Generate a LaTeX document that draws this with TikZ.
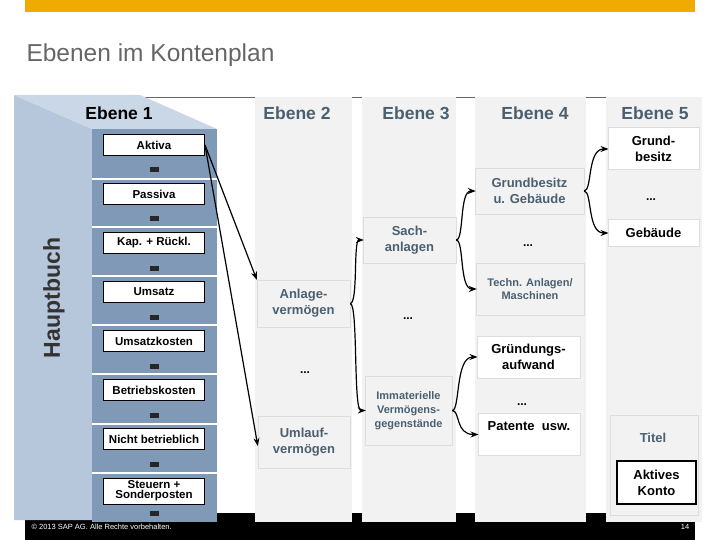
\documentclass[tikz,border=0pt]{standalone}
\usepackage{fontspec}
\setmainfont{Liberation Sans}
\usetikzlibrary{arrows.meta}
\definecolor{sapor}{HTML}{F0AB00}
\definecolor{slate}{HTML}{4A6070}
\definecolor{colg}{HTML}{F2F2F2}
\definecolor{boxb}{HTML}{DDDDDD}
\definecolor{bfront}{HTML}{8099B6}
\definecolor{bleft}{HTML}{B6C7DB}
\definecolor{btop}{HTML}{CAD7E6}
\begin{document}
\begin{tikzpicture}[x=1pt,y=-1pt,
  hdr/.style={font=\fontsize{17.5}{18}\selectfont\bfseries,text=slate},
  onebox/.style={draw=black,line width=1pt,fill=white,minimum width=101pt,minimum height=21pt,inner sep=0pt,font=\fontsize{11.5}{11}\selectfont\bfseries,align=center},
  graybox/.style={draw=boxb,fill=colg,inner sep=0pt,align=center,text=slate,font=\fontsize{13}{16}\selectfont\bfseries},
  whitebox/.style={draw=boxb,line width=1pt,fill=white,inner sep=0pt,align=center,font=\fontsize{13}{16}\selectfont\bfseries},
  dots/.style={font=\fontsize{12}{12}\selectfont\bfseries},
  arr/.style={-{Stealth[length=8pt,width=6pt]},line width=1.2pt}]
\useasboundingbox (0,0) rectangle (720,540);
\fill[white] (0,0) rectangle (720,540);
\fill[sapor] (25,0) rectangle (695,12);
\node[anchor=west,text=black!60,font=\fontsize{24.5}{26}\selectfont] (title) at (23,55) {Ebenen im Kontenplan};
\draw[black!60,line width=0.6pt] (140,97) -- (702,97);
% footer
\fill[black] (25,513) rectangle (695,540);
\node[anchor=west,text=white,font=\fontsize{7.5}{7}\selectfont] (copy) at (28,527) {© 2013 SAP AG. Alle Rechte vorbehalten.};
\node[text=white,font=\fontsize{7.5}{7}\selectfont] (pg) at (685,527) {14};
% columns
\foreach \a/\b in {255/352,362/456,475/586,606/702}{\fill[colg] (\a,97) rectangle (\b,522);}
% book
\fill[bleft] (14,95) -- (92,129) -- (92,520) -- (14,520) -- cycle;
\fill[btop] (14,95) -- (140,95) -- (217,129) -- (92,129) -- cycle;
\fill[bfront] (92,129) rectangle (217,522);
\foreach \y in {179,227,276,325,374,424,473}{\draw[white,line width=1.5pt] (92,\y) -- (217,\y);}
\foreach \y in {170,219,268,317,366,415,464,513}{\fill[black!85] (150,\y-2.5) rectangle (159,\y+2.5);}
\node[rotate=90,font=\fontsize{23}{23}\selectfont\bfseries,text=black!80] (hb) at (54,298) {Hauptbuch};
\node[font=\fontsize{17.5}{18}\selectfont\bfseries] (e1) at (119,113) {Ebene 1};
\node[onebox] (aktiva) at (154,145) {Aktiva};
\node[onebox] (passiva) at (154,194) {Passiva};
\node[onebox] (kap) at (154,243) {Kap. + Rückl.};
\node[onebox] (ums) at (154,292) {Umsatz};
\node[onebox] (umsk) at (154,341) {Umsatzkosten};
\node[onebox] (betr) at (154,390) {Betriebskosten};
\node[onebox] (nicht) at (154,439) {Nicht betrieblich};
\node[onebox,minimum height=26pt,font=\fontsize{11.5}{10}\selectfont\bfseries] (steu) at (154,491) {Steuern +\\Sonderposten};
% headers
\node[hdr] (e2) at (297,113) {Ebene 2};
\node[hdr] (e3) at (416,113) {Ebene 3};
\node[hdr] (e4) at (535,113) {Ebene 4};
\node[hdr] (e5) at (655,113) {Ebene 5};
% Ebene 2
\node[graybox,minimum width=93pt,minimum height=47pt] (anl) at (303.5,303.5) {Anlage-\\vermögen};
\node[dots] (d2) at (305,373) {...};
\node[graybox,minimum width=92pt,minimum height=52pt] (uml) at (304,442) {Umlauf-\\vermögen};
% Ebene 3
\node[graybox,minimum width=93pt,minimum height=46pt] (sach) at (409.5,240) {Sach-\\anlagen};
\node[dots] (d3) at (408,319) {...};
\node[graybox,minimum width=87pt,minimum height=69pt,font=\fontsize{11}{14}\selectfont\bfseries] (imm) at (408.5,410.5) {Immaterielle\\Vermögens-\\gegenstände};
% Ebene 4
\node[graybox,minimum width=109pt,minimum height=46pt] (gug) at (529.5,191) {Grundbesitz\\u. Gebäude};
\node[dots] (d4a) at (528,246) {...};
\node[graybox,minimum width=108pt,minimum height=52pt,font=\fontsize{11}{13}\selectfont\bfseries] (tech) at (530,289) {Techn. Anlagen/\\Maschinen};
\node[whitebox,minimum width=103pt,minimum height=42pt] (gruend) at (528.5,357) {Gründungs-\\aufwand};
\node[dots] (d4b) at (522,405) {...};
\node[whitebox,minimum width=102pt,minimum height=42pt,anchor=north] (pat) at (529,413) {};
\node[font=\fontsize{13}{15}\selectfont\bfseries] (patt) at (529,426) {Patente\ \ usw.};
% Ebene 5
\node[whitebox,minimum width=91pt,minimum height=42pt] (gb5) at (653.5,149) {Grund-\\besitz};
\node[dots] (d5) at (651,200) {...};
\node[whitebox,minimum width=91pt,minimum height=26pt] (geb5) at (653.5,233) {Gebäude};
\draw[boxb,line width=1pt,fill=colg] (610,415) rectangle (698,515);
\node[font=\fontsize{13}{15}\selectfont\bfseries,text=slate] (titel) at (653,438) {Titel};
\node[draw=black,line width=1.5pt,fill=white,minimum width=79pt,minimum height=43pt,inner sep=0pt,align=center,font=\fontsize{13}{16}\selectfont\bfseries] (akt) at (656.5,482.5) {Aktives\\Konto};
% arrows
\draw[arr] (aktiva.east) -- (anl.north west);
\draw[arr] (aktiva.east) -- ([yshift=-4pt]uml.west);
\foreach \s/\t in {anl/sach,anl/imm,sach/gug,sach/tech,imm/gruend,imm/pat,gug/gb5,gug/geb5}{
  \draw[arr] (\s.east) .. controls ([xshift=8pt]\s.east) and ([xshift=3pt]\s.east |- \t.west) .. ([xshift=1pt]\t.west);
}
\end{tikzpicture}
\end{document}
